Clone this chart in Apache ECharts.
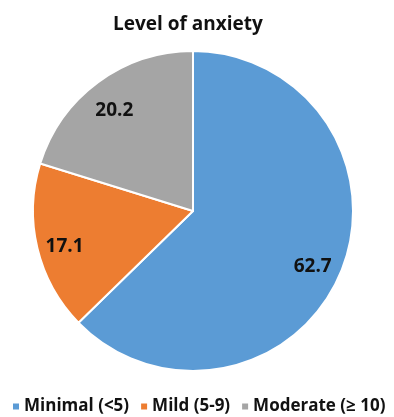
<!DOCTYPE html>
<html>
<head>
<meta charset="utf-8">
<script src="https://cdn.jsdelivr.net/npm/echarts@6/dist/echarts.min.js"></script>
<style>
  html, body { margin: 0; padding: 0; background: #ffffff; }
  #chart { width: 394px; height: 417px; }
</style>
</head>
<body>
<div id="chart"></div>
<script>
// Anxiety levels (percent of respondents)
const categories = ['Minimal (<5)', 'Mild (5-9)', 'Moderate (\u2265 10)'];
const values = [62.7, 17.1, 20.2];
const colors = ['#5B9BD5', '#ED7D31', '#A5A5A5'];

const FONT = '"Open Sans", "Liberation Sans", sans-serif';
const CENTER = [193, 211];

const slices = categories.map((name, i) => ({
  name: name,
  value: values[i],
  itemStyle: { color: colors[i] }
}));

const chart = echarts.init(document.getElementById('chart'), null, { renderer: 'canvas' });
chart.setOption({
  animation: false,
  backgroundColor: '#ffffff',
  title: {
    text: 'Level of anxiety',
    left: 108,
    top: 10,
    textStyle: { fontFamily: FONT, fontSize: 19, fontWeight: 'bold', color: '#111111' }
  },
  legend: {
    top: 398,
    left: 11,
    padding: 0,
    itemWidth: 8,
    itemHeight: 8,
    itemGap: 10,
    icon: 'rect',
    selectedMode: false,
    data: categories,
    textStyle: { fontFamily: FONT, fontSize: 17, fontWeight: 'bold', color: '#111111', padding: [0, 0, 0, -1] }
  },
  series: [
    {
      // the pie itself
      type: 'pie',
      center: CENTER,
      radius: [0, 160],
      startAngle: 90,
      clockwise: true,
      silent: true,
      label: { show: false },
      labelLine: { show: false },
      itemStyle: { borderColor: '#ffffff', borderWidth: 2 },
      data: slices
    },
    {
      // transparent ring carrying the value labels near the outer edge
      type: 'pie',
      center: CENTER,
      radius: [96, 160],
      startAngle: 90,
      clockwise: true,
      silent: true,
      legendHoverLink: false,
      itemStyle: { color: 'rgba(0,0,0,0)', borderWidth: 0 },
      label: {
        show: true,
        position: 'inside',
        offset: [-1, 5],
        formatter: p => p.value.toFixed(1),
        fontFamily: FONT,
        fontSize: 19,
        fontWeight: 'bold',
        color: '#111111'
      },
      labelLine: { show: false },
      data: categories.map((name, i) => ({ name: name, value: values[i] }))
    }
  ]
});
</script>
</body>
</html>
